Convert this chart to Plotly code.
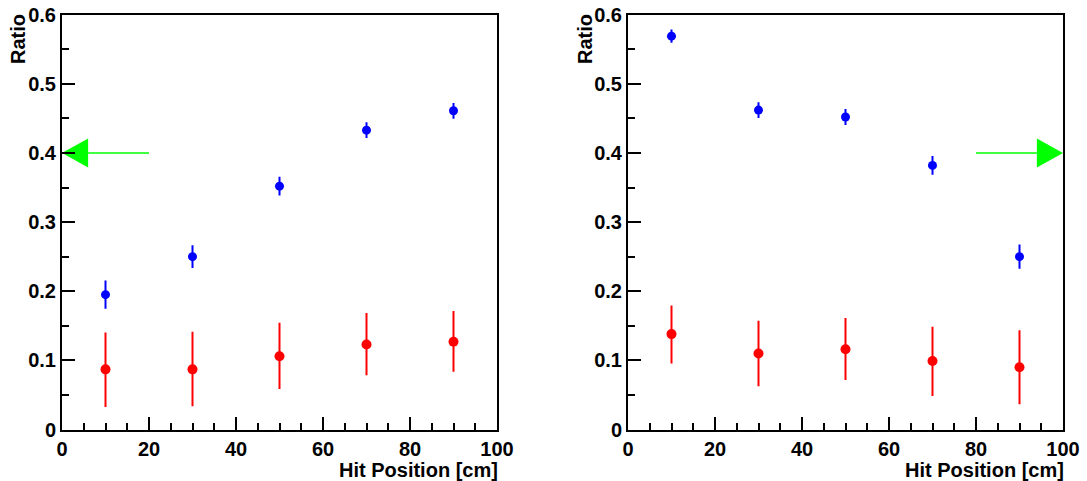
import plotly.graph_objects as go

# ---- data ----
hit_pos = [10, 30, 50, 70, 90]

left_blue = [0.195, 0.250, 0.352, 0.433, 0.461]
left_blue_err = [0.019, 0.015, 0.012, 0.010, 0.010]
left_red = [0.087, 0.087, 0.106, 0.123, 0.127]
left_red_up = [0.052, 0.053, 0.047, 0.044, 0.043]
left_red_dn = [0.053, 0.052, 0.046, 0.043, 0.042]

right_blue = [0.569, 0.462, 0.452, 0.382, 0.250]
right_blue_err = [0.008, 0.010, 0.010, 0.012, 0.016]
right_red = [0.138, 0.110, 0.116, 0.099, 0.090]
right_red_up = [0.040, 0.046, 0.044, 0.048, 0.052]
right_red_dn = [0.041, 0.046, 0.043, 0.049, 0.052]

x_tickvals = [0, 20, 40, 60, 80, 100]
x_ticktext = ["0", "20", "40", "60", "80", "100"]
y_tickvals = [0, 0.1, 0.2, 0.3, 0.4, 0.5, 0.6]
y_ticktext = ["0", "0.1", "0.2", "0.3", "0.4", "0.5", "0.6"]

# arrows: (tail x, tip x, y)
left_arrow = (20, 0, 0.4)
right_arrow = (80, 100, 0.4)
arrow_head_len = 6.0     # x units
arrow_head_half = 0.021  # y units

x_title = "Hit Position [cm]"
y_title = "Ratio"

BLUE = "#0000ff"
RED = "#ff0000"
GREEN = "#00ff00"
FONT = dict(family="Liberation Sans, Arial, sans-serif", size=20, color="black", weight=700)

fig = go.Figure()


def add_panel(xa, ya, blue, blue_err, red, red_up, red_dn, arrow):
    fig.add_trace(go.Scatter(
        x=hit_pos, y=red, mode="markers", xaxis=xa, yaxis=ya,
        marker=dict(color=RED, size=10, symbol="circle"),
        error_y=dict(type="data", symmetric=False, array=red_up, arrayminus=red_dn,
                     color=RED, thickness=2, width=1),
        showlegend=False, hoverinfo="x+y"))
    fig.add_trace(go.Scatter(
        x=hit_pos, y=blue, mode="markers", xaxis=xa, yaxis=ya,
        marker=dict(color=BLUE, size=9, symbol="circle"),
        error_y=dict(type="data", array=blue_err, color=BLUE, thickness=2, width=1),
        showlegend=False, hoverinfo="x+y"))
    tail, tip, ay = arrow
    direction = 1 if tip > tail else -1
    base = tip - direction * arrow_head_len
    fig.add_trace(go.Scatter(
        x=[tail, base], y=[ay, ay], mode="lines", xaxis=xa, yaxis=ya,
        line=dict(color=GREEN, width=1.5), showlegend=False, hoverinfo="skip"))
    fig.add_trace(go.Scatter(
        x=[tip, base, base, tip], y=[ay, ay + arrow_head_half, ay - arrow_head_half, ay],
        mode="lines", fill="toself", fillcolor=GREEN, xaxis=xa, yaxis=ya,
        line=dict(color=GREEN, width=0), showlegend=False, hoverinfo="skip"))


add_panel("x", "y", left_blue, left_blue_err, left_red, left_red_up, left_red_dn, left_arrow)
add_panel("x2", "y2", right_blue, right_blue_err, right_red, right_red_up, right_red_dn, right_arrow)

# the page body margin is removed (post_script below), so the figure fills the window
W, H = 1087, 481


def px_x(p):
    return p / W


def px_y(p):
    return (H - p) / H


ydom = [px_y(429.5), px_y(14.7)]
xdom1 = [px_x(62), px_x(497)]
xdom2 = [px_x(628), px_x(1063)]

xcommon = dict(range=[0, 100], tickmode="array", tickvals=x_tickvals,
               ticktext=["<b>%s</b>" % t for t in x_ticktext],
               ticks="inside", ticklen=13, tickwidth=1.5, automargin=False,
               ticklabeloverflow="allow",
               tickcolor="black", showline=True, linecolor="black", linewidth=2, mirror=True,
               showgrid=False, zeroline=False, tickfont=FONT,
               minor=dict(dtick=5, tick0=0, ticks="inside", ticklen=7, tickwidth=1.5, tickcolor="black"))
ycommon = dict(range=[0, 0.6], tickmode="array", tickvals=y_tickvals,
               ticktext=["<b>%s</b>" % t for t in y_ticktext],
               ticks="inside", ticklen=13, tickwidth=1.5, automargin=False,
               ticklabeloverflow="allow",
               tickcolor="black", showline=True, linecolor="black", linewidth=2, mirror=True,
               showgrid=False, zeroline=False, tickfont=FONT, domain=ydom,
               minor=dict(dtick=0.05, tick0=0, ticks="inside", ticklen=7, tickwidth=1.5, tickcolor="black"))

fig.update_layout(
    width=W, height=H,
    margin=dict(l=0, r=0, t=0, b=0, autoexpand=False),
    paper_bgcolor="white", plot_bgcolor="white",
    xaxis=dict(domain=xdom1, anchor="y", **xcommon),
    yaxis=dict(anchor="x", **ycommon),
    xaxis2=dict(domain=xdom2, anchor="y2", **xcommon),
    yaxis2=dict(anchor="x2", **ycommon),
    annotations=[
        dict(text="<b>%s</b>" % x_title, xref="paper", yref="paper", x=px_x(500), y=px_y(470),
             xanchor="right", yanchor="middle", showarrow=False, font=FONT),
        dict(text="<b>%s</b>" % x_title, xref="paper", yref="paper", x=px_x(1066), y=px_y(470),
             xanchor="right", yanchor="middle", showarrow=False, font=FONT),
        dict(text="<b>%s</b>" % y_title, xref="paper", yref="paper", x=px_x(18), y=px_y(12),
             xanchor="center", yanchor="top", textangle=-90, showarrow=False, font=FONT),
        dict(text="<b>%s</b>" % y_title, xref="paper", yref="paper", x=px_x(585), y=px_y(12),
             xanchor="center", yanchor="top", textangle=-90, showarrow=False, font=FONT),
    ],
)

fig.write_html("out.html",
               config={"displayModeBar": False},
               post_script="document.body.style.margin='0';document.body.style.overflow='hidden';")
